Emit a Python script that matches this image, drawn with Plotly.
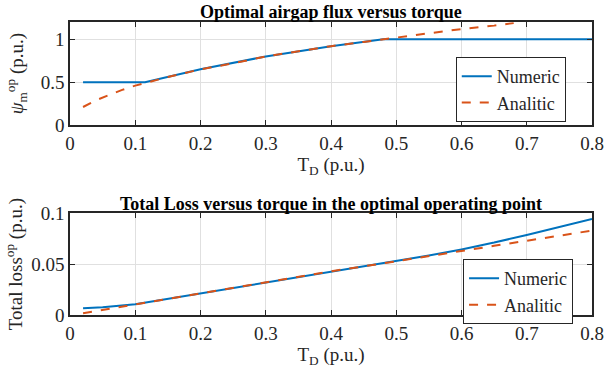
import plotly.graph_objects as go

# Top: optimal airgap flux
flux_num_x = [0.02, 0.05, 0.08, 0.115, 0.2, 0.3, 0.4, 0.48, 0.6, 0.7, 0.8]
flux_num_y = [0.5, 0.5, 0.5, 0.5, 0.65, 0.80, 0.92, 1.0, 1.0, 1.0, 1.0]
flux_ana_x = [0.02, 0.04, 0.06, 0.08, 0.1, 0.115, 0.15, 0.2, 0.25, 0.3, 0.35, 0.4, 0.45, 0.5, 0.55, 0.6, 0.65, 0.68]
flux_ana_y = [0.21, 0.29, 0.35, 0.41, 0.46, 0.49, 0.56, 0.65, 0.72, 0.80, 0.86, 0.92, 0.97, 1.02, 1.07, 1.12, 1.16, 1.19]

# Bottom: total loss
loss_x = [0.02, 0.05, 0.1, 0.15, 0.2, 0.25, 0.3, 0.35, 0.4, 0.45, 0.5, 0.55, 0.6, 0.65, 0.7, 0.75, 0.8]
loss_num = [0.0066, 0.0075, 0.0105, 0.0158, 0.0213, 0.0265, 0.0318, 0.0373, 0.0430, 0.0478, 0.0530, 0.0585, 0.0645, 0.0712, 0.0787, 0.0862, 0.0944]
loss_ana = [0.0017, 0.0050, 0.0105, 0.0158, 0.0213, 0.0265, 0.0318, 0.0373, 0.0430, 0.0478, 0.0530, 0.0580, 0.0630, 0.0680, 0.0730, 0.0780, 0.0830]

x_ticks = [0, 0.1, 0.2, 0.3, 0.4, 0.5, 0.6, 0.7, 0.8]

BLUE = "#0072BD"
ORANGE = "#D95319"
FONT = "Liberation Serif"
TXT = "#262626"
FS = 19

fig = go.Figure()
fig.add_trace(go.Scatter(x=flux_num_x, y=flux_num_y, mode="lines", name="Numeric",
                         line=dict(color=BLUE, width=2), xaxis="x", yaxis="y", legend="legend"))
fig.add_trace(go.Scatter(x=flux_ana_x, y=flux_ana_y, mode="lines", name="Analitic",
                         line=dict(color=ORANGE, width=2, dash="dash"), xaxis="x", yaxis="y", legend="legend"))
fig.add_trace(go.Scatter(x=loss_x, y=loss_num, mode="lines", name="Numeric",
                         line=dict(color=BLUE, width=2), xaxis="x2", yaxis="y2", legend="legend2"))
fig.add_trace(go.Scatter(x=loss_x, y=loss_ana, mode="lines", name="Analitic",
                         line=dict(color=ORANGE, width=2, dash="dash"), xaxis="x2", yaxis="y2", legend="legend2"))

def axis(**kw):
    d = dict(showline=True, linecolor="#262626", linewidth=1.5, mirror="allticks",
             ticks="inside", ticklen=5, tickcolor="#262626", showgrid=True,
             gridcolor="#e0e0e0", gridwidth=1, zeroline=False, automargin=False,
             tickfont=dict(family=FONT, size=FS, color=TXT))
    d.update(kw)
    return d

xtitle = dict(text="T<sub>D</sub> (p.u.)", font=dict(family=FONT, size=FS, color=TXT), standoff=4)
legend_style = dict(xanchor="left", yanchor="top", bgcolor="white",
                    bordercolor="#262626", borderwidth=1, font=dict(family=FONT, size=18, color=TXT),
                    tracegroupgap=0, itemwidth=30)

fig.update_layout(
    width=605, height=375,
    margin=dict(l=70, r=13, t=0, b=0),
    paper_bgcolor="white", plot_bgcolor="white",
    font=dict(family=FONT, size=FS, color=TXT),
    showlegend=True,
    xaxis=axis(range=[0, 0.8], tickvals=x_ticks, ticktext=[f"{v:g}" for v in x_ticks],
               anchor="y", domain=[0, 1], title=xtitle),
    yaxis=axis(range=[0, 1.2], tickvals=[0, 0.5, 1], ticktext=["0", "0.5", "1"],
               domain=[0.6667, 0.9408], anchor="x",
               title=dict(text="<i>ψ</i><sub>m</sub><sup>op</sup> (p.u.)", font=dict(family=FONT, size=FS, color=TXT), standoff=12)),
    xaxis2=axis(range=[0, 0.8], tickvals=x_ticks, ticktext=[f"{v:g}" for v in x_ticks],
                anchor="y2", domain=[0, 1], title=xtitle),
    yaxis2=axis(range=[0, 0.1], tickvals=[0, 0.05, 0.1], ticktext=["0", "0.05", "0.1"],
                domain=[0.16, 0.4312], anchor="x2",
                title=dict(text="Total loss<sup>op</sup> (p.u.)", font=dict(family=FONT, size=FS, color=TXT), standoff=4)),
    legend=dict(legend_style, x=0.739, y=0.848),
    legend2=dict(legend_style, x=0.753, y=0.309),
    annotations=[
        dict(text="<b>Optimal airgap flux versus torque</b>", x=0.5, y=1 - 12 / 375, xref="paper", yref="paper",
             xanchor="center", yanchor="middle", showarrow=False, font=dict(family=FONT, size=18, color="black")),
        dict(text="<b>Total Loss versus torque in the optimal operating point</b>", x=0.5, y=1 - 204 / 375,
             xref="paper", yref="paper", xanchor="center", yanchor="middle", showarrow=False,
             font=dict(family=FONT, size=18, color="black")),
    ],
)

fig.write_html("out.html")
